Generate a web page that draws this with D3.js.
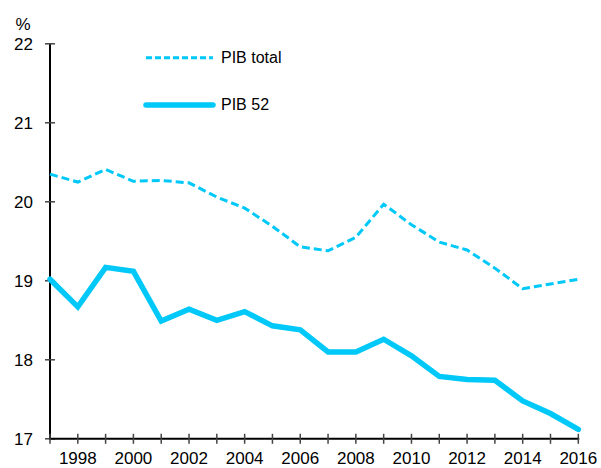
<!DOCTYPE html>
<html>
<head>
<meta charset="utf-8">
<script src="https://cdn.jsdelivr.net/npm/d3@7"></script>
<style>
  body { margin: 0; background: #fff; }
  svg text { font-family: "Liberation Sans", Arial, sans-serif; fill: #000; }
</style>
</head>
<body>
<script>
const years = d3.range(1997, 2017);
const pibTotal = [20.35, 20.25, 20.41, 20.26, 20.27, 20.24, 20.06, 19.92, 19.69, 19.43,
                  19.38, 19.55, 19.97, 19.71, 19.49, 19.39, 19.16, 18.90, 18.96, 19.02];
const pib52 = [19.02, 18.67, 19.17, 19.12, 18.49, 18.64, 18.50, 18.61, 18.43, 18.38,
               18.10, 18.10, 18.26, 18.05, 17.79, 17.75, 17.74, 17.48, 17.32, 17.12];
const yTicks = [17, 18, 19, 20, 21, 22];
const xLabels = [1998, 2000, 2002, 2004, 2006, 2008, 2010, 2012, 2014, 2016];
const seriesNames = ["PIB total", "PIB 52"];

const width = 601, height = 468;
const color = "#00c8f8";

const x = d3.scaleLinear().domain([1997, 2016]).range([50, 578.3]);
const y = d3.scaleLinear().domain([17, 22]).range([438.8, 43.8]);

const svg = d3.select("body").append("svg")
    .attr("width", width).attr("height", height);

// y axis
const yAxis = svg.append("g").attr("transform", `translate(${x(1997)},0)`);
yAxis.append("line")
    .attr("y1", y(22)).attr("y2", y(17))
    .attr("stroke", "#000").attr("stroke-width", 2);
yAxis.selectAll(".tick").data(yTicks).enter().append("line")
    .attr("x1", -5).attr("x2", 5)
    .attr("y1", d => y(d)).attr("y2", d => y(d))
    .attr("stroke", "#444").attr("stroke-width", 1.5);
yAxis.selectAll(".lab").data(yTicks).enter().append("text")
    .attr("x", -17).attr("y", d => y(d)).attr("dy", "0.35em")
    .attr("text-anchor", "end").attr("font-size", 17)
    .text(d => d);
svg.append("text").attr("x", 23).attr("y", 30)
    .attr("text-anchor", "middle").attr("font-size", 17).text("%");

// x axis
const xAxis = svg.append("g").attr("transform", `translate(0,${y(17)})`);
xAxis.append("line")
    .attr("x1", x(1997) - 1).attr("x2", x(2016) + 1)
    .attr("stroke", "#000").attr("stroke-width", 2);
xAxis.selectAll(".tick").data(years).enter().append("line")
    .attr("x1", d => x(d)).attr("x2", d => x(d))
    .attr("y1", -5).attr("y2", 5)
    .attr("stroke", "#444").attr("stroke-width", 1.5);
xAxis.selectAll(".lab").data(xLabels).enter().append("text")
    .attr("x", d => x(d)).attr("y", 25)
    .attr("text-anchor", "middle").attr("font-size", 17)
    .text(d => d);

// lines
const line = d3.line().x((d, i) => x(years[i])).y(d => y(d));

svg.append("path").datum(pibTotal)
    .attr("d", line).attr("fill", "none")
    .attr("stroke", color).attr("stroke-width", 3)
    .attr("stroke-dasharray", "8,4");

svg.append("path").datum(pib52)
    .attr("d", line).attr("fill", "none")
    .attr("stroke", color).attr("stroke-width", 5.5)
    .attr("stroke-linejoin", "miter").attr("stroke-linecap", "round");

// legend
const legend = svg.append("g");
legend.append("line")
    .attr("x1", 146).attr("x2", 213).attr("y1", 57.7).attr("y2", 57.7)
    .attr("stroke", color).attr("stroke-width", 3).attr("stroke-dasharray", "6,3");
legend.append("line")
    .attr("x1", 146).attr("x2", 213).attr("y1", 105).attr("y2", 105)
    .attr("stroke", color).attr("stroke-width", 5.5).attr("stroke-linecap", "round");
legend.selectAll("text").data(seriesNames).enter().append("text")
    .attr("x", 221).attr("y", (d, i) => i === 0 ? 57.7 : 104)
    .attr("dy", "0.35em").attr("font-size", 16)
    .text(d => d);
</script>
</body>
</html>
